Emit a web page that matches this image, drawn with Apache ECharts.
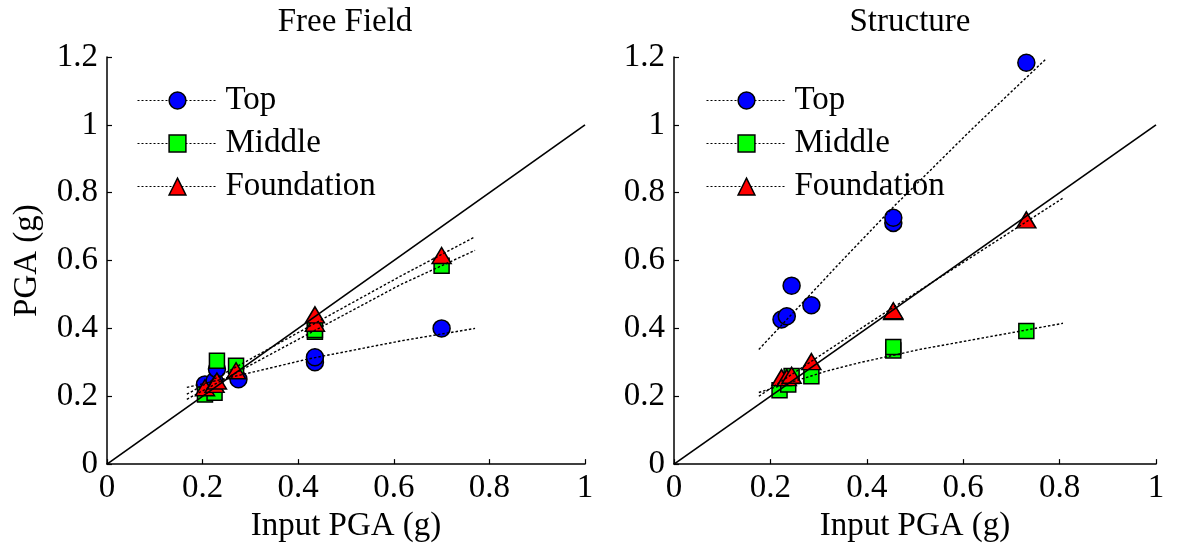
<!DOCTYPE html>
<html>
<head>
<meta charset="utf-8">
<title>PGA amplification</title>
<script src="https://cdn.jsdelivr.net/npm/echarts@6/dist/echarts.min.js"></script>
<style>
  html, body { margin: 0; padding: 0; background: #fff; }
  #chart { width: 1184px; height: 548px; }
</style>
</head>
<body>
<div id="chart"></div>
<script>
// ---- Free Field: measured PGA vs input PGA ([input, response] in g)
const ffTop = [[0.205, 0.235], [0.225, 0.245], [0.23, 0.28], [0.275, 0.25], [0.435, 0.30], [0.435, 0.315], [0.70, 0.40]];
const ffMiddle = [[0.205, 0.205], [0.225, 0.21], [0.23, 0.305], [0.27, 0.29], [0.435, 0.39], [0.435, 0.395], [0.70, 0.585]];
const ffFoundation = [[0.205, 0.225], [0.225, 0.235], [0.23, 0.245], [0.27, 0.275], [0.435, 0.415], [0.435, 0.44], [0.70, 0.615]];

// Free Field trend lines
const ffTopFit = [[0.167, 0.226], [0.314, 0.274], [0.418, 0.309], [0.614, 0.363], [0.77, 0.40]];
const ffMiddleFit = [[0.167, 0.191], [0.435, 0.394], [0.614, 0.529], [0.77, 0.63]];
const ffFoundationFit = [[0.167, 0.206], [0.435, 0.415], [0.614, 0.554], [0.77, 0.67]];

// ---- Structure: measured PGA vs input PGA
const stTop = [[0.223, 0.426], [0.234, 0.436], [0.244, 0.526], [0.285, 0.468], [0.455, 0.711], [0.455, 0.726], [0.731, 1.183]];
const stMiddle = [[0.219, 0.218], [0.237, 0.235], [0.244, 0.26], [0.285, 0.259], [0.455, 0.335], [0.455, 0.345], [0.731, 0.392]];
const stFoundation = [[0.223, 0.255], [0.234, 0.255], [0.244, 0.262], [0.285, 0.302], [0.455, 0.45], [0.455, 0.452], [0.731, 0.72]];

// Structure trend lines
const stTopFit = [[0.176, 0.338], [0.35, 0.602], [0.46, 0.765], [0.62, 0.99], [0.773, 1.196]];
const stMiddleFit = [[0.176, 0.211], [0.316, 0.274], [0.385, 0.299], [0.51, 0.338], [0.807, 0.415]];
const stFoundationFit = [[0.176, 0.2], [0.406, 0.417], [0.807, 0.784]];

// 1:1 reference line
const equalityLine = [[0, 0], [1, 1]];

// Axis settings
const xTicks = { min: 0, max: 1, interval: 0.2 };
const yTicks = { min: 0, max: 1.2, interval: 0.2 };
const panelTitles = ['Free Field', 'Structure'];
const groupNames = ['Top', 'Middle', 'Foundation'];
const xAxisName = 'Input PGA (g)';
const yAxisName = 'PGA (g)';

const FONT = "'Liberation Serif', 'Times New Roman', serif";
const FS = 33;
const groupStyle = {
  Top: { symbol: 'circle', size: 17, color: '#0000ff' },
  Middle: { symbol: 'rect', size: 15, color: '#00ff00' },
  Foundation: { symbol: 'triangle', size: [19, 16], color: '#ff0000' }
};

function markerSeries(name, data, axisIndex) {
  const s = groupStyle[name];
  return {
    name: name,
    type: 'line',
    xAxisIndex: axisIndex,
    yAxisIndex: axisIndex,
    data: data,
    symbol: s.symbol,
    symbolSize: s.size,
    showAllSymbol: true,
    lineStyle: { color: '#000', width: 0, opacity: 0 },
    itemStyle: { color: s.color, borderColor: '#000', borderWidth: 1.5, opacity: 1 },
    z: 3,
    silent: true
  };
}

function fitSeries(data, axisIndex) {
  return {
    type: 'line',
    xAxisIndex: axisIndex,
    yAxisIndex: axisIndex,
    data: data,
    symbol: 'none',
    smooth: false,
    lineStyle: { color: '#000', width: 1.4, type: [2.5, 2] },
    z: 4,
    silent: true
  };
}

function diagonalSeries(axisIndex) {
  return {
    type: 'line',
    xAxisIndex: axisIndex,
    yAxisIndex: axisIndex,
    data: equalityLine,
    symbol: 'none',
    lineStyle: { color: '#000', width: 1.7 },
    z: 5,
    silent: true
  };
}

function xAxisDef(gridIndex) {
  return {
    type: 'value',
    gridIndex: gridIndex,
    min: xTicks.min, max: xTicks.max, interval: xTicks.interval,
    name: xAxisName,
    nameLocation: 'middle',
    nameGap: 45,
    nameTextStyle: { fontFamily: FONT, fontSize: FS, color: '#000' },
    axisLine: { show: true, onZero: false, lineStyle: { color: '#000', width: 1.5 } },
    axisTick: { show: true, inside: true, length: 5, lineStyle: { color: '#000', width: 1.2 } },
    axisLabel: { fontFamily: FONT, fontSize: FS, color: '#000', margin: 8 },
    splitLine: { show: false }
  };
}

function yAxisDef(gridIndex, withName) {
  return {
    type: 'value',
    gridIndex: gridIndex,
    min: yTicks.min, max: yTicks.max, interval: yTicks.interval,
    name: withName ? yAxisName : '',
    nameLocation: 'middle',
    nameGap: 63,
    nameRotate: 90,
    nameTextStyle: { fontFamily: FONT, fontSize: FS, color: '#000' },
    axisLine: { show: true, onZero: false, lineStyle: { color: '#000', width: 1.5 } },
    axisTick: { show: true, inside: true, length: 5, lineStyle: { color: '#000', width: 1.2 } },
    axisLabel: { fontFamily: FONT, fontSize: FS, color: '#000', margin: 9 },
    splitLine: { show: false }
  };
}

function legendDef(left) {
  return {
    orient: 'vertical',
    left: left,
    top: 84,
    padding: 0,
    itemWidth: 80,
    itemHeight: 21,
    itemGap: 10,
    selectedMode: false,
    textStyle: { fontFamily: FONT, fontSize: FS, color: '#000', lineHeight: 33, padding: [0, 0, 0, 3] },
    lineStyle: { color: '#000', width: 1, type: [2, 2], opacity: 1 },
    data: groupNames.map(function (n) {
      return {
        name: n,
        itemStyle: { color: groupStyle[n].color, borderColor: '#000', borderWidth: 1.5, opacity: 1 }
      };
    })
  };
}

const chart = echarts.init(document.getElementById('chart'), null, { renderer: 'canvas' });

chart.setOption({
  animation: false,
  backgroundColor: '#fff',
  title: [
    { text: panelTitles[0], left: 345, top: 6, padding: 0, textAlign: 'center',
      textStyle: { fontFamily: FONT, fontSize: FS, fontWeight: 'normal', color: '#000' } },
    { text: panelTitles[1], left: 910, top: 6, padding: 0, textAlign: 'center',
      textStyle: { fontFamily: FONT, fontSize: FS, fontWeight: 'normal', color: '#000' } }
  ],
  legend: [legendDef(137), legendDef(706)],
  grid: [
    { left: 107, top: 57, width: 478, height: 408, containLabel: false },
    { left: 674, top: 57, width: 482, height: 408, containLabel: false }
  ],
  xAxis: [xAxisDef(0), xAxisDef(1)],
  yAxis: [yAxisDef(0, true), yAxisDef(1, false)],
  series: [
    markerSeries('Top', ffTop, 0),
    markerSeries('Middle', ffMiddle, 0),
    markerSeries('Foundation', ffFoundation, 0),
    fitSeries(ffTopFit, 0),
    fitSeries(ffMiddleFit, 0),
    fitSeries(ffFoundationFit, 0),
    diagonalSeries(0),
    markerSeries('Top', stTop, 1),
    markerSeries('Middle', stMiddle, 1),
    markerSeries('Foundation', stFoundation, 1),
    fitSeries(stTopFit, 1),
    fitSeries(stMiddleFit, 1),
    fitSeries(stFoundationFit, 1),
    diagonalSeries(1)
  ]
});
</script>
</body>
</html>
